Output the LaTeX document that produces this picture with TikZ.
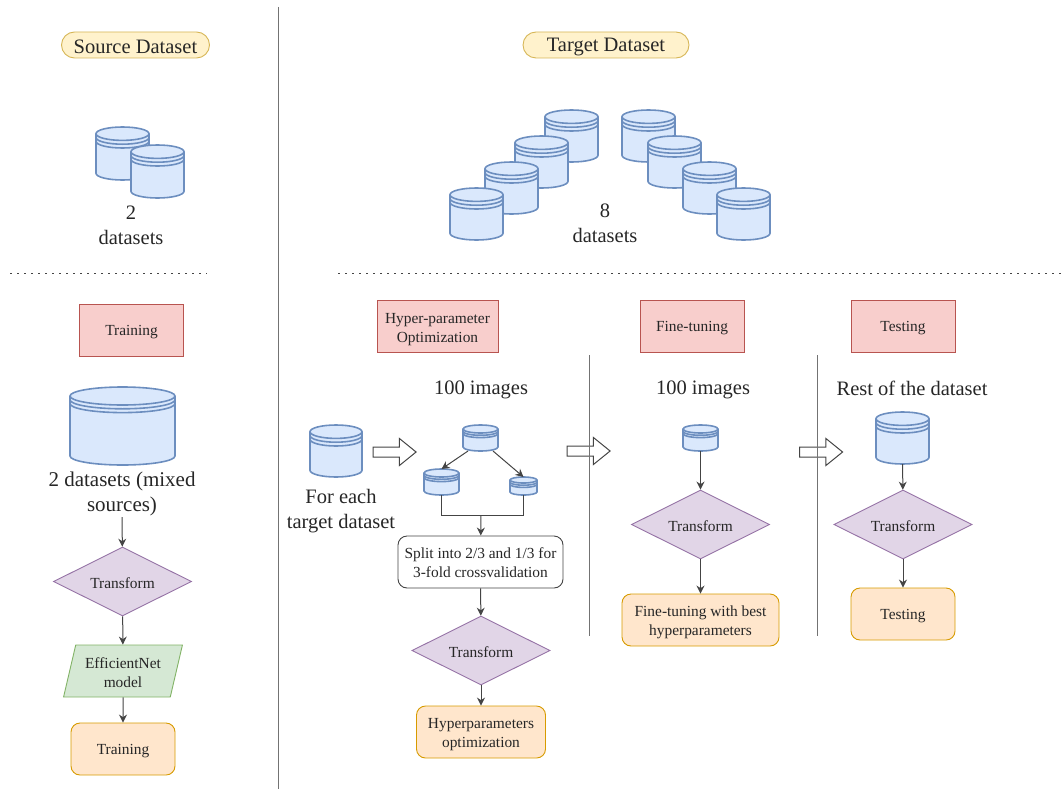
\documentclass[tikz,border=0pt]{standalone}
\usepackage{fontspec}
\setmainfont{Liberation Serif}
\usetikzlibrary{shapes.geometric,shapes.arrows,arrows.meta,positioning,calc}
\definecolor{dbfill}{HTML}{DAE8FC}
\definecolor{dbline}{HTML}{6C8EBF}
\definecolor{redfill}{HTML}{F8CECC}
\definecolor{redline}{HTML}{B85450}
\definecolor{purplefill}{HTML}{E1D5E7}
\definecolor{purpleline}{HTML}{9673A6}
\definecolor{greenfill}{HTML}{D5E8D4}
\definecolor{greenline}{HTML}{82B366}
\definecolor{orangefill}{HTML}{FFE6CC}
\definecolor{orangeline}{HTML}{D79B00}
\definecolor{pillfill}{HTML}{FFF2CC}
\definecolor{pillline}{HTML}{D6B656}
\definecolor{inkgray}{HTML}{444444}

\tikzset{
    bigtext/.style={font=\fontsize{20.5}{25}\selectfont, text=black!85, align=center, inner sep=1pt},
    smalltext/.style={font=\fontsize{15.4}{19}\selectfont, text=black!85, align=center, inner sep=0pt,
        execute at begin node={\rule{0pt}{14pt}}},
    pillbox/.style={bigtext, draw=pillline, fill=pillfill, rounded corners=13pt, line width=0.9pt,
        minimum height=26pt, execute at begin node={\rule{0pt}{17pt}}},
    stagebox/.style={smalltext, draw=redline, fill=redfill, line width=0.9pt,
        minimum width=104pt, minimum height=52pt},
    transformbox/.style={smalltext, shape=diamond, aspect=3, draw=purpleline, fill=purplefill, line width=0.9pt,
        minimum width=138pt, minimum height=69pt},
    taskbox/.style={smalltext, draw=orangeline, fill=orangefill, rounded corners=9pt, line width=0.9pt,
        minimum height=52pt},
    modelbox/.style={smalltext, shape=trapezium, trapezium left angle=72, trapezium right angle=108,
        trapezium stretches=true, draw=greenline, fill=greenfill, line width=0.9pt,
        minimum width=120pt, minimum height=52pt},
    splitbox/.style={smalltext, draw=inkgray, fill=white, rounded corners=9pt, line width=0.9pt,
        minimum width=165pt, minimum height=52pt},
    flow/.style={draw=inkgray, line width=1pt, -{Stealth[length=8pt,width=8pt]}},
    plainflow/.style={draw=inkgray, line width=1pt},
    divider/.style={draw=black!55, line width=0.9pt},
    dotrule/.style={draw=inkgray, line width=1.5pt, dash pattern=on 1.5pt off 5.5pt},
    hollowarrow/.style={shape=single arrow, draw=inkgray, line width=1pt,
        inner xsep=0pt, inner ysep=4.5pt,
        minimum width=26pt, minimum height=43pt, single arrow head extend=8.5pt,
        single arrow tip angle=78},
    dbbox/.style={inner sep=0pt, outer sep=0pt, anchor=north west},
    dbstroke/.style={draw=dbline, line width=1.6pt, fill=dbfill}
}

% one line of a two-line label, set lower by #1
\newcommand{\lowtext}[2]{\raisebox{-#1}[\height][\depth]{#2}}

% name, left, top, width, height, ellipse radius, stripe gap
\newcommand{\dbcyl}[7]{
    \begin{scope}[shift={(#2,#3)}]
        \draw[dbstroke] (0,#6) -- (0,#5-#6)
            arc[start angle=180, delta angle=180, x radius=#4*0.5pt, y radius=#6*1pt]
            -- (#4,#6)
            arc[start angle=0, delta angle=180, x radius=#4*0.5pt, y radius=#6*1pt] -- cycle;
        \foreach \gap in {0,1,2} {
            \draw[dbline, line width=1.6pt] (0,#6+\gap*#7)
                arc[start angle=180, delta angle=180, x radius=#4*0.5pt, y radius=#6*1pt];
        }
    \end{scope}
    \node[dbbox, minimum width=#4pt, minimum height=#5pt] (#1) at (#2,#3) {};
}

\begin{document}
\begin{tikzpicture}[x=1pt,y=-1pt]
    \useasboundingbox (0,0) rectangle (1064,789);

    % Column and section rules
    \coordinate (coltop) at (278,7);
    \coordinate (colbot) at (278,789);
    \draw[divider] (coltop) -- (colbot);
    \coordinate (ruleAa) at (10,273.5);
    \coordinate (ruleAb) at (207,273.5);
    \coordinate (ruleBa) at (338,273.5);
    \coordinate (ruleBb) at (1064,273.5);
    \draw[dotrule] (ruleAa) -- (ruleAb);
    \draw[dotrule] (ruleBa) -- (ruleBb);

    % Headers
    \node[pillbox, minimum width=148pt] (srchead) at (135.5,45) {Source Dataset};
    \node[pillbox, minimum width=166pt] (tgthead) at (606,45) {Target Dataset};

    % Source datasets
    \dbcyl{srcA}{96}{127}{53}{53}{6.7}{3.8}
    \dbcyl{srcB}{131}{145}{53}{53}{6.7}{3.8}
    \node[bigtext] (srclabel) at (131,225) {2\ \\datasets};

    % Target datasets
    \foreach \nm/\px/\py in {tgtD/545/110, tgtC/515/136, tgtB/485/162, tgtA/450/188,
                             tgtE/622/110, tgtF/648/136, tgtG/683/162, tgtH/717/188} {
        \dbcyl{\nm}{\px}{\py}{53}{52}{6.7}{3.8}
    }
    \node[bigtext] (tgtlabel) at (605,223) {8\\datasets};

    % Source training column
    \node[stagebox] (stageTrain) at (131.5,330) {Training};
    \dbcyl{dbMixed}{70}{387}{105}{78}{9}{3.8}
    \node[bigtext, font=\fontsize{21}{25}\selectfont] (mixedlabel) at (122,494) {2 datasets (mixed\\sources)};
    \node[transformbox] (transA) at (122.5,581.5) {Transform};
    \node[modelbox] (model) at (123,671) {\lowtext{2pt}{EfficientNet}\\\lowtext{2pt}{model}};
    \node[taskbox, minimum width=104pt] (taskTrain) at (123,749) {Training};
    \draw[flow] (mixedlabel) -- (transA);
    \draw[flow] (transA) -- (model);
    \draw[flow] (model) -- (taskTrain);

    % Hyper-parameter column
    \node[stagebox, minimum width=121pt] (stageHyper) at (437.5,326) {\lowtext{4pt}{Hyper-parameter}\\\lowtext{4pt}{Optimization}};
    \node[bigtext] (imgA) at (481,390) {100 images};
    \dbcyl{dbEach}{310}{425}{52}{52}{6.7}{3.8}
    \node[bigtext] (eachlabel) at (341,511.5) {For each\\target dataset};
    \dbcyl{dbFull}{463}{425}{35}{26}{4}{2.3}
    \dbcyl{dbLeft}{424}{469}{35}{26}{4}{2.3}
    \dbcyl{dbRight}{510}{477}{27}{18}{3}{2.2}
    \coordinate (jn) at (481,515);
    \node[splitbox] (split) at (480.5,562) {\lowtext{1pt}{Split into 2/3 and 1/3 for}\\\lowtext{1pt}{3-fold crossvalidation}};
    \node[transformbox] (transB) at (481,650.5) {Transform};
    \node[taskbox, minimum width=129pt] (taskHyper) at (481,732) {\lowtext{3pt}{Hyperparameters}\\\lowtext{3pt}{optimization}};
    \draw[flow] ([xshift=5pt]dbFull.south west) -- (dbLeft.north);
    \draw[flow] ([xshift=-5pt]dbFull.south east) -- (dbRight.north);
    \draw[plainflow] (dbLeft.south) -- (dbLeft.south |- jn) -- (dbRight.south |- jn) -- (dbRight.south);
    \draw[flow] (jn) -- (split);
    \draw[flow] (split) -- (transB);
    \draw[flow] (transB) -- (taskHyper);

    % Hollow arrows between steps
    \node[hollowarrow] (stepA) at (391.5,452) {};
    \node[hollowarrow] (stepB) at (585.5,451) {};
    \node[hollowarrow] (stepC) at (818,452) {};

    % Fine-tuning column
    \coordinate (sepAa) at (589,355);
    \coordinate (sepAb) at (589,636);
    \draw[divider] (sepAa) -- (sepAb);
    \node[stagebox] (stageFine) at (692,326) {Fine-tuning};
    \node[bigtext] (imgB) at (703,390) {100 images};
    \dbcyl{dbFine}{683}{425}{35}{26}{4}{2.3}
    \node[transformbox] (transC) at (700.5,524.5) {Transform};
    \node[taskbox, minimum width=157pt] (taskFine) at (700.5,620) {\lowtext{2pt}{Fine-tuning with best}\\\lowtext{2pt}{hyperparameters}};
    \draw[flow] (dbFine) -- (transC);
    \draw[flow] (transC) -- (taskFine);

    % Testing column
    \coordinate (sepBa) at (817,355);
    \coordinate (sepBb) at (817,636);
    \draw[divider] (sepBa) -- (sepBb);
    \node[stagebox] (stageTest) at (903,326) {Testing};
    \node[bigtext] (restlabel) at (912,388) {Rest of the dataset};
    \dbcyl{dbRest}{876}{412}{53}{52}{6.7}{3.8}
    \node[transformbox] (transD) at (903,524.5) {Transform};
    \node[taskbox, minimum width=104pt] (taskTest) at (903,614) {Testing};
    \draw[flow] (dbRest) -- (transD);
    \draw[flow] (transD) -- (taskTest);
\end{tikzpicture}
\end{document}
